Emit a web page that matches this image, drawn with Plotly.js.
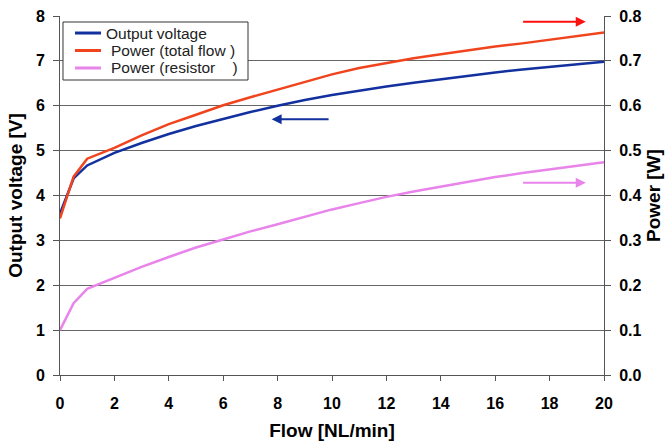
<!DOCTYPE html>
<html><head><meta charset="utf-8">
<script src="https://cdn.plot.ly/plotly-3.0.1.min.js"></script>
<style>html,body{margin:0;padding:0;background:#fff}#c{width:671px;height:441px}</style>
</head><body><div id="c"></div>
<script>
const flow = [0, 0.5, 1, 2, 3, 4, 5, 6, 7, 8, 9, 10, 11, 12, 13, 14, 15, 16, 17, 18, 19, 20];
const voltage = [3.60, 4.38, 4.67, 4.95, 5.17, 5.37, 5.55, 5.71, 5.86, 6.00, 6.13, 6.24, 6.34, 6.43, 6.51, 6.59, 6.67, 6.74, 6.81, 6.87, 6.93, 6.98];
const powerTotal = [0.349, 0.442, 0.482, 0.506, 0.534, 0.559, 0.580, 0.601, 0.619, 0.636, 0.654, 0.670, 0.684, 0.695, 0.706, 0.715, 0.724, 0.732, 0.739, 0.747, 0.755, 0.763];
const powerResistor = [0.100, 0.160, 0.192, 0.217, 0.241, 0.263, 0.284, 0.302, 0.320, 0.336, 0.353, 0.369, 0.383, 0.397, 0.409, 0.420, 0.431, 0.441, 0.450, 0.458, 0.467, 0.474];
const seriesNames = ["Output voltage", "Power (total flow )", "Power (resistor&nbsp;&nbsp;&nbsp;&nbsp;)"];
const seriesColors = ["#12309e", "#f0441e", "#e884ea"];
const xTicks = [0, 2, 4, 6, 8, 10, 12, 14, 16, 18, 20];

const fam = "Liberation Sans, Arial, sans-serif";
const tickFont = {family: fam, size: 16, color: "#000", weight: "bold"};
const titleFont = {family: fam, size: 19, color: "#000", weight: "bold"};
const traces = [
  {x: flow, y: voltage, name: seriesNames[0], mode: "lines", line: {color: seriesColors[0], width: 2.5}, yaxis: "y"},
  {x: flow, y: powerTotal, name: seriesNames[1], mode: "lines", line: {color: seriesColors[1], width: 2.5}, yaxis: "y2"},
  {x: flow, y: powerResistor, name: seriesNames[2], mode: "lines", line: {color: seriesColors[2], width: 2.5}, yaxis: "y2"}
];
const arrow = (x, y, ax, ay, yref, color) => ({x, y, ax, ay, xref: "x", yref, axref: "x", ayref: yref,
  showarrow: true, arrowhead: 2, arrowsize: 1, arrowwidth: 2, arrowcolor: color, text: ""});

// legend box drawn in paper coordinates
const legRows = [0.9526, 0.9039, 0.8552];
const legendShapes = [{type: "rect", xref: "paper", yref: "paper", x0: 0.0055, x1: 0.3456, y0: 0.8217, y1: 0.9833,
  line: {color: "#333", width: 1}, fillcolor: "#fff", layer: "above"}];
const legendAnns = [];
seriesNames.forEach((n, i) => {
  legendShapes.push({type: "line", xref: "paper", yref: "paper", x0: 0.0276, x1: 0.0754, y0: legRows[i], y1: legRows[i],
    line: {color: seriesColors[i], width: 3}, layer: "above"});
  legendAnns.push({xref: "paper", yref: "paper", x: i === 0 ? 0.0800 : 0.0900, y: legRows[i], xanchor: "left", yanchor: "middle",
    text: n, showarrow: false, font: {family: fam, size: 15.5, color: "#222"}});
});

const layout = {
  width: 671, height: 441,
  margin: {l: 60, r: 67, t: 16, b: 66},
  paper_bgcolor: "#fff", plot_bgcolor: "#fff",
  showlegend: false,
  xaxis: {range: [0, 20], tickvals: xTicks, ticks: "outside", ticklen: 5, tickcolor: "#555",
    showgrid: false, zeroline: false, showline: true, linecolor: "#555", linewidth: 1,
    tickfont: tickFont, ticklabelstandoff: 9,
    title: {text: "Flow [NL/min]", font: titleFont, standoff: 13}},
  yaxis: {range: [0, 8], dtick: 1, ticks: "outside", ticklen: 6, tickcolor: "#555",
    showgrid: true, gridcolor: "#666", gridwidth: 1, zeroline: false, showline: true, linecolor: "#555",
    tickfont: tickFont, ticklabelstandoff: 5,
    title: {text: "Output voltage [V]", font: titleFont, standoff: 8}},
  yaxis2: {range: [0, 0.8], dtick: 0.1, tickformat: ".1f", overlaying: "y", side: "right", ticks: "outside", ticklen: 6, tickcolor: "#555",
    showgrid: false, zeroline: false, showline: true, linecolor: "#555",
    tickfont: tickFont, ticklabelstandoff: 5,
    title: {text: "Power [W]", font: titleFont, standoff: 6}},
  shapes: legendShapes,
  annotations: [
    arrow(7.78, 5.70, 9.93, 5.70, "y", seriesColors[0]),
    arrow(19.33, 0.787, 16.97, 0.787, "y2", "#ff1010"),
    arrow(19.33, 0.4285, 16.97, 0.4285, "y2", seriesColors[2])
  ].concat(legendAnns)
};
Plotly.newPlot("c", traces, layout, {displayModeBar: false, staticPlot: true});
</script></body></html>
